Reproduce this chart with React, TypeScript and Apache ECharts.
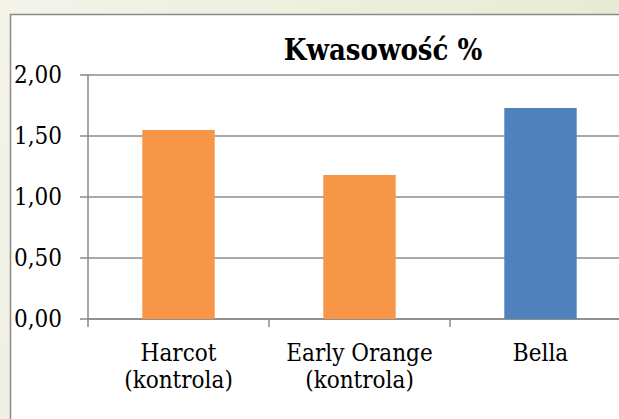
import React, { useEffect, useRef } from "react";
import * as echarts from "echarts";

const categories = ["Harcot\n(kontrola)", "Early Orange\n(kontrola)", "Bella"];
const values = [1.55, 1.18, 1.73];
const barColors = ["#F79646", "#F79646", "#4F81BD"];
const yTicks = [0, 0.5, 1, 1.5, 2];
const titleText = "Kwasowość %";

const FONT = "'DejaVu Serif Condensed', 'DejaVu Serif', serif";

export default function App() {
  const ref = useRef<HTMLDivElement>(null);
  useEffect(() => {
    if (!ref.current) return;
    const chart = echarts.init(ref.current, undefined, { renderer: "svg" });
    chart.setOption({
      animation: false,
      backgroundColor: {
        type: "linear",
        x: 0, y: 0, x2: 1, y2: 0.3,
        colorStops: [
          { offset: 0, color: "#f3f3ea" },
          { offset: 1, color: "#e6ead0" },
        ],
      },
      graphic: [
        {
          type: "rect",
          z: -10,
          shape: { x: 10.5, y: 14.5, width: 700, height: 500 },
          style: { fill: "#ffffff", stroke: "#8a8a8a", lineWidth: 1.5 },
          silent: true,
        },
        {
          type: "text",
          x: 383,
          y: 50,
          style: {
            text: titleText,
            fontFamily: FONT,
            fontWeight: "bold",
            fontSize: 29,
            fill: "#000",
            align: "center",
            verticalAlign: "middle",
          },
        },
      ],
      grid: { left: 88, top: 75, width: 543, height: 244, containLabel: false },
      xAxis: {
        type: "category",
        data: categories,
        axisLine: { show: true, lineStyle: { color: "#888", width: 1.5 } },
        axisTick: { show: true, length: 8, alignWithLabel: false, lineStyle: { color: "#888", width: 1.5 } },
        axisLabel: {
          interval: 0,
          margin: 20,
          fontFamily: FONT,
          fontSize: 24,
          lineHeight: 27,
          color: "#000",
        },
      },
      yAxis: {
        type: "value",
        min: 0,
        max: 2,
        interval: 0.5,
        axisLine: { show: true, lineStyle: { color: "#888", width: 1.5 } },
        axisTick: { show: true, length: 8, lineStyle: { color: "#888", width: 1.5 } },
        splitLine: { show: true, lineStyle: { color: "#8c8c8c", width: 1.5 } },
        axisLabel: {
          margin: 26,
          fontFamily: FONT,
          fontSize: 24,
          color: "#000",
          formatter: (v: number) => (yTicks.includes(v) ? v.toFixed(2).replace(".", ",") : ""),
        },
      },
      series: [
        {
          type: "bar",
          barWidth: "40%",
          data: values.map((v, i) => ({ value: v, itemStyle: { color: barColors[i] } })),
        },
      ],
    });
    return () => chart.dispose();
  }, []);
  return (
    <div style={{ position: "fixed", left: 0, top: 0, width: 619, height: 419, overflow: "hidden" }}>
      <div ref={ref} style={{ width: 660, height: 419 }} />
    </div>
  );
}
